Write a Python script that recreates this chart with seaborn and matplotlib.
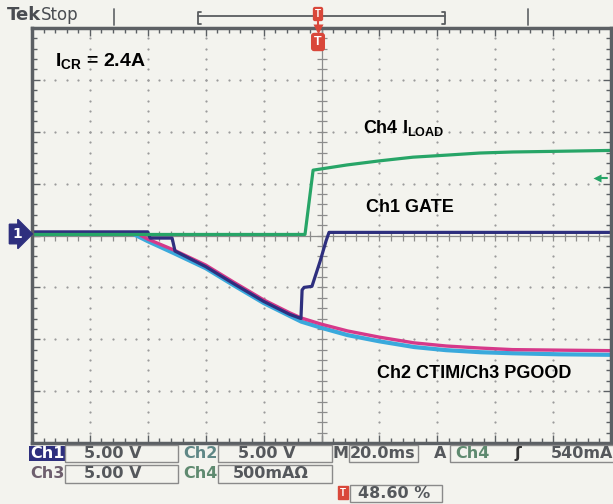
import numpy as np
import matplotlib
matplotlib.use("Agg")
import matplotlib.pyplot as plt
import seaborn as sns
from matplotlib.patches import Rectangle

# Waypoints: time in ms (20 ms/div), level in divisions
gate_t = [0, 40, 40.8, 48.4, 49.4, 60, 70, 80, 89, 92.9, 93.3, 94.0, 96.7, 99.5, 101.6, 102.6, 200]
gate_lvl = [0.07, 0.07, -0.05, -0.05, -0.30, -0.60, -0.94, -1.27, -1.52, -1.60,
            -1.05, -1.00, -0.98, -0.50, -0.10, 0.06, 0.06]

pgood_t = [0, 36, 40, 49, 60, 70, 80, 89, 93, 100, 109, 120, 132, 143, 155, 166, 182, 200]
pgood_lvl = [0.05, 0.05, -0.07, -0.28, -0.57, -0.91, -1.24, -1.49, -1.59, -1.71,
             -1.84, -1.96, -2.07, -2.13, -2.17, -2.20, -2.21, -2.22]

ctim_t = [0, 35, 40, 49, 60, 70, 80, 89, 93, 100, 109, 120, 132, 143, 155, 166, 182, 200]
ctim_lvl = [0.03, 0.03, -0.11, -0.34, -0.63, -0.97, -1.30, -1.55, -1.66, -1.78,
            -1.92, -2.04, -2.15, -2.21, -2.25, -2.27, -2.29, -2.30]

iload_t = [0, 94.3, 97.1, 99.5, 108.8, 120.2, 131.6, 143.4, 154.7, 166.1, 177.9, 200]
iload_lvl = [0.02, 0.02, 1.26, 1.28, 1.36, 1.44, 1.51, 1.55, 1.59, 1.61, 1.62, 1.64]

trig_level = 1.10  # 540 mA on Ch4

NAVY = "#2e2f7e"
PINK = "#d6398a"
CYAN = "#3aa9dc"
GREEN = "#27a567"
BG = "#f3f3ee"
BORDER = "#5c6064"
DOT = "#9b9b9b"
RED = "#d9473a"
TXT = "#55585c"

sns.set_style("white")
plt.rcParams["font.family"] = ["Liberation Sans", "DejaVu Sans"]
plt.rcParams["mathtext.fontset"] = "custom"
plt.rcParams["mathtext.bf"] = "Liberation Sans:bold"
plt.rcParams["mathtext.rm"] = "Liberation Sans"
plt.rcParams["text.color"] = "black"

W, H = 613, 504
fig = plt.figure(figsize=(W / 100, H / 100), dpi=100, facecolor=BG)
ax = fig.add_axes([32 / W, 1 - 443 / H, 579 / W, 415 / H])
ax.set_facecolor(BG)
ax.set_xlim(0, 200)
ax.set_ylim(-4, 4)

# graticule
ax.set_xticks(np.arange(0, 201, 20))
ax.set_xticks(np.arange(0, 201, 4), minor=True)
ax.set_yticks(np.arange(-4, 5, 1))
ax.set_yticks(np.arange(-4, 4.01, 0.2), minor=True)
ax.tick_params(which="both", direction="in", top=True, right=True, bottom=True, left=True,
               labelbottom=False, labelleft=False, color=BORDER, width=1)
ax.tick_params(which="major", length=6)
ax.tick_params(which="minor", length=3.5)
for s in ax.spines.values():
    s.set_color(BORDER)
    s.set_linewidth(2.5)

ys_minor = np.arange(-4, 4.01, 0.2)
xs_minor = np.arange(0, 200.1, 4)
for x in np.arange(20, 200, 20):
    if x != 100:
        ax.plot(np.full_like(ys_minor, x), ys_minor, ls="none", marker="o", ms=1.6,
                color=DOT, mec="none")
for y in np.arange(-3, 4, 1):
    if y != 0:
        ax.plot(xs_minor, np.full_like(xs_minor, y), ls="none", marker="o", ms=1.6,
                color=DOT, mec="none")
ax.axvline(100, color="#8c8c8c", lw=0.9)
ax.axhline(0, color="#8c8c8c", lw=0.9)
ax.plot(np.full_like(ys_minor, 100), ys_minor, ls="none", marker="_", ms=7, mew=0.9, color="#8c8c8c")
ax.plot(xs_minor, np.zeros_like(xs_minor), ls="none", marker="|", ms=7, mew=0.9, color="#8c8c8c")

# traces
sns.lineplot(x=ctim_t, y=ctim_lvl, ax=ax, color=CYAN, lw=3.0, sort=False, estimator=None)
sns.lineplot(x=pgood_t, y=pgood_lvl, ax=ax, color=PINK, lw=2.4, sort=False, estimator=None)
sns.lineplot(x=gate_t, y=gate_lvl, ax=ax, color=NAVY, lw=2.3, sort=False, estimator=None)
sns.lineplot(x=iload_t, y=iload_lvl, ax=ax, color=GREEN, lw=2.3, sort=False, estimator=None)

# trigger level arrow
ax.plot([195.5, 198.5], [trig_level, trig_level], color=GREEN, lw=1.5)
ax.plot([195], [trig_level], marker="<", ms=6, color=GREEN, mec="none")

# labels
ax.text(7.9, 3.25, r"$\mathbf{I}_{\mathbf{CR}}$ = 2.4A", fontsize=14, fontweight="bold",
        va="baseline", color="black")
ax.text(114.4, 1.97, r"Ch4 $\mathbf{I}_{\mathbf{LOAD}}$", fontsize=13, fontweight="bold",
        va="baseline", color="black")
ax.text(115.4, 0.46, "Ch1 GATE", fontsize=13, fontweight="bold", va="baseline", color="black")
ax.text(119.1, -2.74, "Ch2 CTIM/Ch3 PGOOD", fontsize=13, fontweight="bold", va="baseline",
        color="black")
ax.set_xlabel("")
ax.set_ylabel("")

# screen overlay in pixel coordinates
ov = fig.add_axes([0, 0, 1, 1], facecolor="none")
ov.set_xlim(0, W)
ov.set_ylim(H, 0)
ov.axis("off")

ov.text(7, 15, "Tek", fontsize=13, fontweight="bold", color="#4a4d52", va="center", family="DejaVu Sans")
ov.text(41, 15, "Stop", fontsize=12, color="#4a4d52", va="center", family="DejaVu Sans")
ov.plot([114, 114], [9, 25], color="#6a6d70", lw=1.3)
ov.plot([528, 528], [9, 25], color="#6a6d70", lw=1.3)
ov.plot([198, 445], [15.5, 15.5], color="#5a5d60", lw=1.3)
ov.plot([201, 198, 198, 201], [12, 12, 24, 24], color="#5a5d60", lw=1.3)
ov.plot([442, 445, 445, 442], [12, 12, 24, 24], color="#5a5d60", lw=1.3)

ov.text(318, 14, "T", fontsize=7, fontweight="bold", color="white", ha="center", va="center",
        bbox=dict(boxstyle="round,pad=0.15", fc=RED, ec=RED))
ov.plot([318, 318], [20, 28], color=RED, lw=1.5)
ov.plot([318], [29], marker="v", ms=7, color=RED, mec="none")
ov.text(318, 42, "T", fontsize=9, fontweight="bold", color="white", ha="center", va="center",
        bbox=dict(boxstyle="round,pad=0.2", fc=RED, ec=RED))

ov.text(17, 234, "1", fontsize=10, fontweight="bold", color="white", ha="center", va="center",
        family="DejaVu Sans", bbox=dict(boxstyle="rarrow,pad=0.2", fc=NAVY, ec=NAVY))

# readout
rf = dict(fontsize=11.5, fontweight="bold", va="center", ha="center", family="DejaVu Sans")
ov.add_patch(Rectangle((29, 446), 36, 15, fc=NAVY, ec="none"))
ov.text(47, 453.5, "Ch1", color="white", **rf)
for x0, x1, y0, y1 in [(65, 178, 445, 462), (218, 332, 445, 462), (349, 418, 445, 462),
                       (450, 614, 445, 462), (65, 178, 465, 483), (218, 332, 465, 483),
                       (350, 442, 485, 502)]:
    ov.add_patch(Rectangle((x0, y0), x1 - x0, y1 - y0, fc="none", ec="#8a8a8a", lw=1))
ov.text(113, 453.5, "5.00 V", color=TXT, **rf)
ov.text(200, 453.5, "Ch2", color="#5f8786", **rf)
ov.text(267, 453.5, "5.00 V", color=TXT, **rf)
ov.text(340, 453.5, "M", color=TXT, **rf)
ov.text(383, 453.5, "20.0ms", color=TXT, **rf)
ov.text(440, 453.5, "A", color=TXT, **rf)
ov.text(472, 453.5, "Ch4", color="#5f8a70", **rf)
ov.text(518, 453.5, "ʃ", color="#333333", **rf)
ov.text(582, 453.5, "540mA", color=TXT, **rf)
ov.text(47, 473.5, "Ch3", color="#6e5f6e", **rf)
ov.text(113, 473.5, "5.00 V", color=TXT, **rf)
ov.text(200, 473.5, "Ch4", color="#5f8a70", **rf)
ov.text(271, 473.5, "500mAΩ", color=TXT, **rf)
ov.text(343, 492.5, "T", fontsize=7, fontweight="bold", color="white", ha="center", va="center",
        bbox=dict(boxstyle="square,pad=0.2", fc=RED, ec=RED))
ov.text(394, 493, "48.60 %", color=TXT, **rf)

fig.savefig("out.png", dpi=100, facecolor=BG)
